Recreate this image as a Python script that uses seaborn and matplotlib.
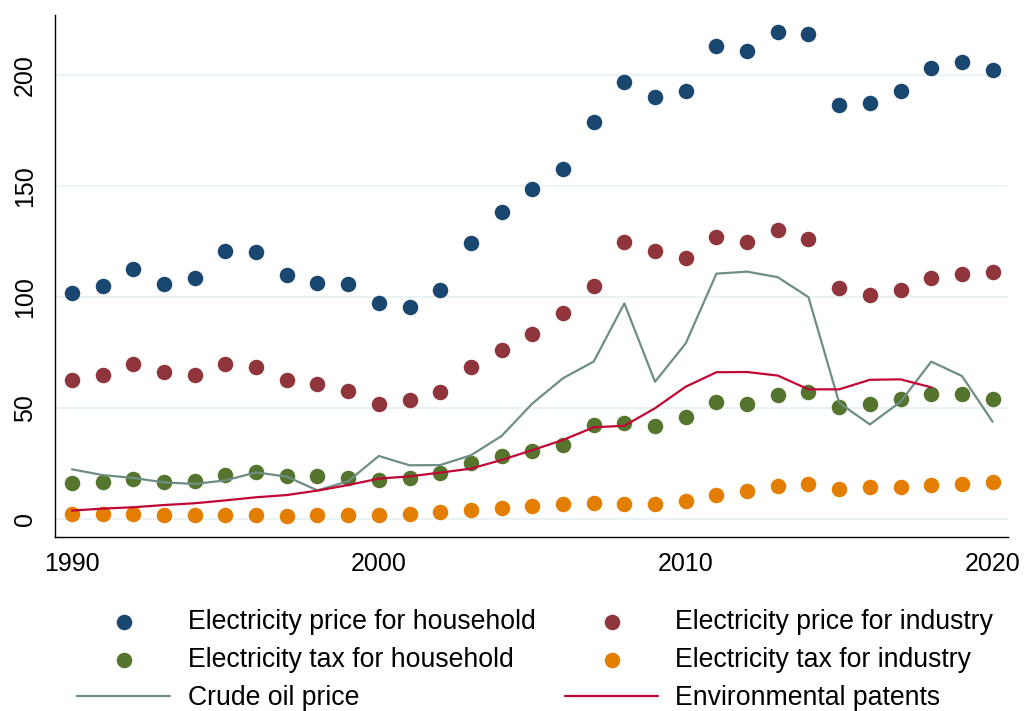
import numpy as np
import pandas as pd
import matplotlib
matplotlib.use("Agg")
import matplotlib.pyplot as plt
import seaborn as sns

# data
years = list(range(1990, 2021))

price_household = [101.8, 105.0, 112.8, 106.0, 108.7, 120.7, 120.4, 110.0, 106.3, 106.0,
                   97.3, 95.6, 103.0, 124.3, 138.2, 148.6, 157.8, 179.0, 196.7, 190.2,
                   192.9, 212.9, 210.7, 219.2, 218.3, 186.3, 187.4, 192.7, 203.2, 205.7, 202.4]
price_industry = [62.8, 65.0, 70.0, 66.1, 64.7, 69.7, 68.6, 62.6, 60.7, 57.5,
                  51.8, 53.5, 57.1, 68.6, 76.3, 83.3, 92.9, 105.1, 124.6, 120.6,
                  117.4, 126.9, 124.8, 130.2, 126.3, 103.9, 100.9, 103.2, 108.7, 110.4, 111.3]
tax_household = [16.1, 16.8, 18.2, 16.5, 17.1, 19.8, 21.0, 19.2, 19.2, 18.5,
                 17.4, 18.5, 20.6, 25.2, 28.4, 30.7, 33.3, 42.5, 43.2, 41.7,
                 45.8, 52.6, 51.7, 56.0, 57.3, 50.3, 51.7, 54.0, 56.3, 56.5, 54.0]
tax_industry = [2.1, 2.1, 2.3, 1.8, 1.7, 1.7, 1.7, 1.5, 2.0, 2.0,
                1.8, 2.4, 3.0, 3.9, 5.0, 5.7, 6.6, 7.4, 6.6, 6.8,
                8.1, 11.0, 12.6, 14.7, 15.6, 13.5, 14.3, 14.6, 15.2, 15.6, 16.5]
crude_oil = [22.4, 19.8, 18.5, 16.5, 15.8, 17.4, 21.0, 19.1, 12.9, 17.0,
             28.4, 24.2, 24.3, 28.7, 37.4, 52.0, 63.4, 70.9, 97.1, 61.8,
             79.1, 110.5, 111.4, 108.9, 99.9, 52.3, 42.6, 52.8, 70.9, 64.4, 43.8]
patent_years = list(range(1990, 2019))
patents = [3.8, 4.7, 5.3, 6.3, 7.1, 8.4, 9.8, 10.8, 12.8, 15.3,
           18.2, 19.2, 20.9, 22.7, 26.6, 31.0, 35.6, 41.3, 42.0, 49.9,
           59.6, 66.1, 66.2, 64.6, 58.4, 58.4, 62.7, 62.9, 59.3]

df = pd.DataFrame({"year": years,
                   "price_household": price_household,
                   "price_industry": price_industry,
                   "tax_household": tax_household,
                   "tax_industry": tax_industry,
                   "crude_oil": crude_oil})
df_pat = pd.DataFrame({"year": patent_years, "patents": patents})

sns.set_theme(style="white")
plt.rcParams["font.family"] = ["Liberation Sans", "DejaVu Sans"]
plt.rcParams["text.color"] = "black"

fig = plt.figure(figsize=(10.25, 7.11), dpi=100)
ax = fig.add_axes([0.0537, 0.2447, 0.9297, 0.7343])

# gridlines first, behind everything
ax.set_axisbelow(True)
ax.yaxis.grid(True, color="#eaf2f3", linewidth=1.6)
ax.xaxis.grid(False)

dot = dict(s=125, linewidth=0, zorder=3)
sns.scatterplot(data=df, x="year", y="price_household", color="#1a476f",
                label="Electricity price for household", ax=ax, **dot)
sns.scatterplot(data=df, x="year", y="tax_household", color="#55752f",
                label="Electricity tax for household", ax=ax, **dot)
sns.scatterplot(data=df, x="year", y="price_industry", color="#90353b",
                label="Electricity price for industry", ax=ax, **dot)
sns.scatterplot(data=df, x="year", y="tax_industry", color="#e37e00",
                label="Electricity tax for industry", ax=ax, **dot)
sns.lineplot(data=df, x="year", y="crude_oil", color="#6e8e84", linewidth=1.6,
             label="Crude oil price", ax=ax, zorder=4)
sns.lineplot(data=df_pat, x="year", y="patents", color="#c10534", linewidth=1.6,
             label="Environmental patents", ax=ax, zorder=5)

ax.set_xlim(1989.45, 2020.5)
ax.set_ylim(-8.1, 227)
ax.set_xticks([1990, 2000, 2010, 2020])
ax.set_yticks([0, 50, 100, 150, 200])
ax.set_xlabel("")
ax.set_ylabel("")

for s in ["top", "right"]:
    ax.spines[s].set_visible(False)
for s in ["left", "bottom"]:
    ax.spines[s].set_color("black")
    ax.spines[s].set_linewidth(1.0)

ax.tick_params(axis="both", which="major", direction="out", length=7, width=0.9,
               color="black", labelsize=18, labelcolor="black")
ax.tick_params(axis="x", pad=4)
ax.tick_params(axis="y", pad=6)
for lab in ax.get_yticklabels():
    lab.set_rotation(90)
    lab.set_va("center")

# legend: household column, industry column
h, l = ax.get_legend_handles_labels()
order = [0, 1, 4, 2, 3, 5]
leg = ax.legend([h[i] for i in order], [l[i] for i in order], ncol=2,
                loc="upper center", bbox_to_anchor=(0.504, -0.092),
                frameon=False, fontsize=19.2, handlelength=3.49, handletextpad=0.64,
                columnspacing=1.12, labelspacing=0.45, markerscale=1.0)
for t in leg.get_texts():
    t.set_color("black")

plt.savefig("out.png", dpi=100)
